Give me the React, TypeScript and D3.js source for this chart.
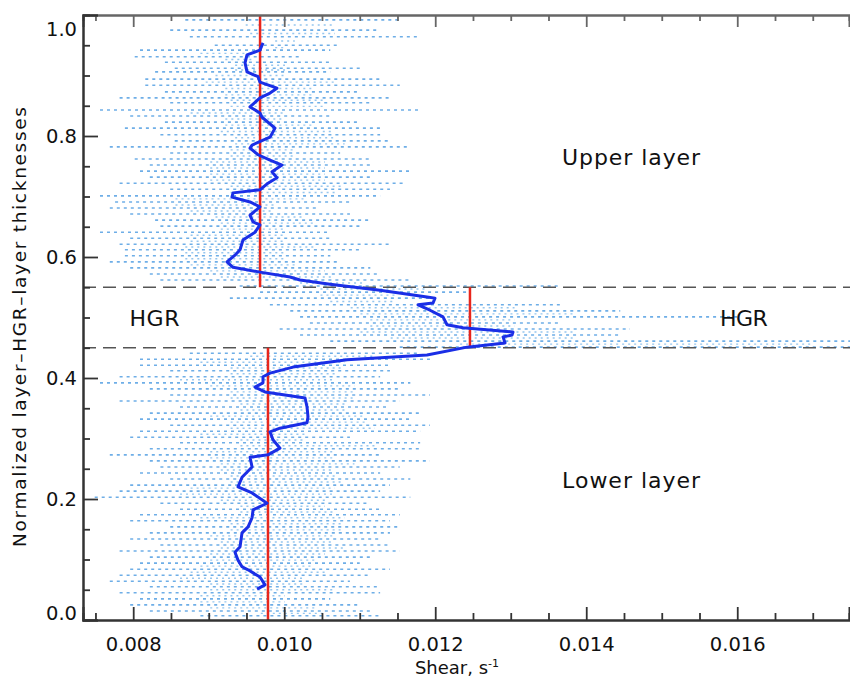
import React, { useEffect, useRef } from "react";
import * as d3 from "d3";

// ---- data ----
const meanY = [0.954,0.942,0.934,0.921,0.906,0.898,0.889,0.879,0.871,0.863,0.848,0.838,0.831,0.813,0.798,0.785,0.780,0.769,0.760,0.752,0.741,0.731,0.722,0.711,0.706,0.699,0.691,0.683,0.669,0.658,0.653,0.641,0.628,0.612,0.603,0.592,0.583,0.575,0.567,0.562,0.555,0.545,0.534,0.532,0.524,0.521,0.512,0.501,0.488,0.483,0.476,0.471,0.468,0.458,0.451,0.438,0.430,0.418,0.408,0.402,0.392,0.385,0.377,0.367,0.352,0.336,0.326,0.317,0.311,0.298,0.284,0.273,0.269,0.253,0.236,0.220,0.210,0.193,0.182,0.169,0.154,0.144,0.121,0.112,0.099,0.088,0.083,0.071,0.058,0.051];
const meanX = [0.009719,0.009679,0.009507,0.009481,0.009507,0.009653,0.009679,0.009904,0.009812,0.009679,0.009547,0.009679,0.009706,0.009878,0.009812,0.009574,0.009547,0.009653,0.009812,0.009971,0.009838,0.009904,0.009785,0.009679,0.009322,0.009308,0.009547,0.009679,0.009547,0.009587,0.009679,0.009613,0.009454,0.009415,0.009348,0.009242,0.009322,0.009679,0.010077,0.010209,0.010607,0.011269,0.011891,0.011997,0.011971,0.011772,0.011931,0.012103,0.012156,0.012368,0.013030,0.013017,0.012898,0.012925,0.012421,0.011891,0.010832,0.010117,0.009812,0.009719,0.009719,0.009613,0.009745,0.010276,0.010302,0.010315,0.010302,0.009944,0.009812,0.009851,0.009944,0.009785,0.009547,0.009574,0.009441,0.009388,0.009574,0.009772,0.009587,0.009574,0.009521,0.009441,0.009415,0.009348,0.009388,0.009441,0.009521,0.009679,0.009745,0.009640];

// individual profiles (light blue dotted rows)
const rowY = [0.992,0.975,0.964,0.950,0.942,0.931,0.922,0.912,0.906,0.894,0.884,0.873,0.863,0.855,0.843,0.833,0.823,0.813,0.802,0.792,0.782,0.772,0.762,0.752,0.742,0.732,0.722,0.712,0.701,0.691,0.681,0.671,0.661,0.651,0.641,0.631,0.621,0.612,0.602,0.592,0.582,0.572,0.562,
  0.552,0.542,0.532,0.521,0.511,0.501,0.491,0.481,0.471,0.461,0.451,
  0.441,0.431,0.421,0.412,0.402,0.392,0.382,0.372,0.362,0.352,0.342,0.332,0.322,0.312,0.302,0.293,0.283,0.273,0.263,0.253,0.243,0.233,0.223,0.213,0.203,0.193,0.183,0.174,0.164,0.154,0.144,0.134,0.124,0.114,0.104,0.094,0.084,0.074,0.064,0.055,0.045,0.035,0.025,0.015,0.007];
const rowFrom = [0.00869,0.00849,0.00875,0.00908,0.00809,0.00802,0.00842,0.00855,0.00829,0.00816,0.00816,0.00842,0.00782,0.00849,0.00756,0.00796,0.00842,0.00789,0.00836,0.00855,0.00769,0.00849,0.00802,0.00822,0.00809,0.00822,0.00782,0.00849,0.00756,0.00776,0.00769,0.00796,0.00829,0.00836,0.00756,0.00796,0.00782,0.00789,0.00789,0.00769,0.00796,0.00822,0.00836,
  0.00941,0.00968,0.00928,0.00981,0.01008,0.01021,0.01034,0.00994,0.01021,0.01061,0.01153,
  0.00875,0.00809,0.00809,0.00849,0.00782,0.00756,0.00822,0.00849,0.00782,0.00862,0.00822,0.00809,0.00849,0.00809,0.00796,0.00862,0.00822,0.00769,0.00822,0.00836,0.00809,0.00849,0.00796,0.00782,0.00749,0.00836,0.00862,0.00809,0.00796,0.00849,0.00822,0.00796,0.00836,0.00782,0.00822,0.00809,0.00796,0.00782,0.00769,0.00822,0.00782,0.00809,0.00796,0.00822,0.00889];
const rowTo = [0.01153,0.01127,0.01180,0.01074,0.01061,0.01021,0.01061,0.01100,0.01061,0.01127,0.01153,0.01100,0.01140,0.01114,0.01180,0.01061,0.01100,0.01127,0.01127,0.01140,0.01167,0.01074,0.01114,0.01114,0.01167,0.01114,0.01160,0.01140,0.01127,0.01087,0.01047,0.01087,0.01114,0.01100,0.01061,0.01061,0.01140,0.01100,0.01061,0.01074,0.01114,0.01127,0.01167,
  0.01365,0.01246,0.01206,0.01365,0.01445,0.01604,0.01365,0.01458,0.01445,0.01760,0.01760,
  0.01180,0.01193,0.01140,0.01140,0.01127,0.01167,0.01153,0.01193,0.01153,0.01140,0.01180,0.01167,0.01193,0.01180,0.01087,0.01180,0.01180,0.01127,0.01193,0.01153,0.01127,0.01167,0.01140,0.01127,0.01167,0.01114,0.01127,0.01153,0.01140,0.01153,0.01140,0.01127,0.01140,0.01153,0.01114,0.01100,0.01140,0.01114,0.01087,0.01127,0.01127,0.01061,0.01100,0.01114,0.01127];

// layer means (red) and boundaries
const upperMean = 0.00968;
const hgrMean = 0.01246;
const lowerMean = 0.009785;
const hgrTop = 0.55;
const hgrBottom = 0.45;

const xMajorTicks = [0.008, 0.010, 0.012, 0.014, 0.016];
const yMajorTicks = [0.0, 0.2, 0.4, 0.6, 0.8, 1.0];

const W = 850, H = 677;
const FONT = "DejaVu Sans";

export default function App() {
  const ref = useRef<SVGSVGElement>(null);
  useEffect(() => {
    const svg = d3.select(ref.current);
    svg.selectAll("*").remove();
    const x = d3.scaleLinear().domain([0.007335, 0.01748]).range([83, 849]);
    const y = d3.scaleLinear().domain([0, 1]).range([620, 15]);
    const clip = svg.append("clipPath").attr("id", "plotclip");
    clip.append("rect").attr("x", 83).attr("y", 12).attr("width", 770).attr("height", 610);
    const g = svg.append("g").attr("clip-path", "url(#plotclip)");

    // dotted profile rows
    const rows = rowY.map((v, i) => ({ y: v, a: rowFrom[i], b: rowTo[i] }));
    g.selectAll("line.row").data(rows).enter().append("line")
      .attr("x1", d => x(d.a)).attr("x2", d => x(d.b))
      .attr("y1", d => y(d.y)).attr("y2", d => y(d.y))
      .attr("stroke", "#4b9be2").attr("stroke-width", 1.6)
      .attr("stroke-dasharray", "3 4").attr("opacity", 0.8);
    // intermediate rows (denser near the centre)
    const mids = rows.slice(0, -1).map((d, i) => ({
      y: (d.y + rows[i + 1].y) / 2,
      a: Math.max(d.a, rows[i + 1].a) + 0.0008,
      b: Math.min(d.b, rows[i + 1].b) - 0.0006,
    })).filter(d => d.b > d.a);
    g.selectAll("line.mid").data(mids).enter().append("line")
      .attr("x1", d => x(d.a)).attr("x2", d => x(d.b))
      .attr("y1", d => y(d.y)).attr("y2", d => y(d.y))
      .attr("stroke", "#6aaee8").attr("stroke-width", 1.4)
      .attr("stroke-dasharray", "2 4").attr("opacity", 0.7);

    // dashed boundaries
    [hgrTop, hgrBottom].forEach(v => {
      g.append("line").attr("x1", x(0.007335)).attr("x2", 850)
        .attr("y1", y(v)).attr("y2", y(v))
        .attr("stroke", "#555").attr("stroke-width", 1.6)
        .attr("stroke-dasharray", "13 7");
    });

    // red layer means
    const reds = [
      { x: upperMean, y0: 1.0, y1: hgrTop },
      { x: hgrMean, y0: hgrTop, y1: hgrBottom },
      { x: lowerMean, y0: hgrBottom, y1: 0.0 },
    ];
    g.selectAll("line.red").data(reds).enter().append("line")
      .attr("x1", d => x(d.x)).attr("x2", d => x(d.x))
      .attr("y1", d => y(d.y0)).attr("y2", d => y(d.y1))
      .attr("stroke", "#e8261c").attr("stroke-width", 2.5);

    // mean profile
    const line = d3.line<number>().x((d, i) => x(meanX[i])).y(d => y(d)).curve(d3.curveLinear);
    g.append("path").attr("d", line(meanY))
      .attr("fill", "none").attr("stroke", "#1a2ee6").attr("stroke-width", 3)
      .attr("stroke-linejoin", "round");

    // axes
    const xMinor = d3.range(0.0075, 0.0176, 0.0005).filter(v => !xMajorTicks.some(t => Math.abs(t - v) < 1e-9));
    const yMinor = d3.range(0.05, 1.0, 0.05).filter(v => !yMajorTicks.some(t => Math.abs(t - v) < 1e-9));

    const styleAxis = (sel: any, color: string) => {
      sel.select(".domain").attr("stroke", color).attr("stroke-width", 2);
      sel.selectAll(".tick line").attr("stroke", color).attr("stroke-width", 1.8);
      sel.selectAll("text").attr("font-family", FONT).attr("font-size", 19.5).attr("fill", "#111");
    };

    const bx = svg.append("g").attr("transform", "translate(0,620)")
      .call(d3.axisBottom(x).tickValues(xMajorTicks).tickSize(-13).tickPadding(17).tickFormat(d3.format(".3f")) as any);
    styleAxis(bx, "#333");
    const bxm = svg.append("g").attr("transform", "translate(0,620)")
      .call(d3.axisBottom(x).tickValues(xMinor).tickSize(-7).tickFormat(() => "") as any);
    styleAxis(bxm, "#333");

    const tx = svg.append("g").attr("transform", "translate(0,15)")
      .call(d3.axisTop(x).tickValues(xMajorTicks).tickSize(-12).tickFormat(() => "") as any);
    styleAxis(tx, "#666");
    const txm = svg.append("g").attr("transform", "translate(0,15)")
      .call(d3.axisTop(x).tickValues(xMinor).tickSize(-6).tickFormat(() => "") as any);
    styleAxis(txm, "#666");

    const ly = svg.append("g").attr("transform", "translate(83,0)")
      .call(d3.axisLeft(y).tickValues(yMajorTicks).tickSize(-15).tickPadding(6).tickFormat(d3.format(".1f")) as any);
    styleAxis(ly, "#333");
    ly.selectAll(".tick text").attr("dy", (d: any) => d >= 0.99 ? "1.05em" : d <= 0.01 ? "-0.05em" : "0.32em");
    const lym = svg.append("g").attr("transform", "translate(83,0)")
      .call(d3.axisLeft(y).tickValues(yMinor).tickSize(-7).tickFormat(() => "") as any);
    styleAxis(lym, "#333");

    // titles
    const xt = svg.append("text").attr("x", 457).attr("y", 674).attr("text-anchor", "middle")
      .attr("font-family", FONT).attr("font-size", 18).attr("fill", "#111");
    xt.append("tspan").text("Shear, s");
    xt.append("tspan").attr("font-size", 11).attr("dy", -7).text("-1");

    svg.append("text").attr("transform", "translate(26,327) rotate(-90)")
      .attr("text-anchor", "middle").attr("font-family", FONT).attr("font-size", 18.5)
      .attr("fill", "#111").attr("textLength", 440).attr("lengthAdjust", "spacing")
      .text("Normalized layer\u2013HGR\u2013layer thicknesses");

    // annotations
    const ann = [
      { t: "Upper layer", x: 0.01368, y: 0.752, len: 138 },
      { t: "Lower layer", x: 0.01368, y: 0.218, len: 138 },
      { t: "HGR", x: 0.00795, y: 0.486, len: 50 },
      { t: "HGR", x: 0.01577, y: 0.486, len: 48 },
    ];
    svg.selectAll("text.ann").data(ann).enter().append("text")
      .attr("x", d => x(d.x)).attr("y", d => y(d.y))
      .attr("font-family", FONT).attr("font-size", 22).attr("fill", "#111")
      .attr("textLength", d => d.len).attr("lengthAdjust", "spacing")
      .text(d => d.t);
  }, []);

  return (
    <svg ref={ref} width={W} height={H}
      style={{ position: "absolute", left: 0, top: 0, background: "#fff" }} />
  );
}
